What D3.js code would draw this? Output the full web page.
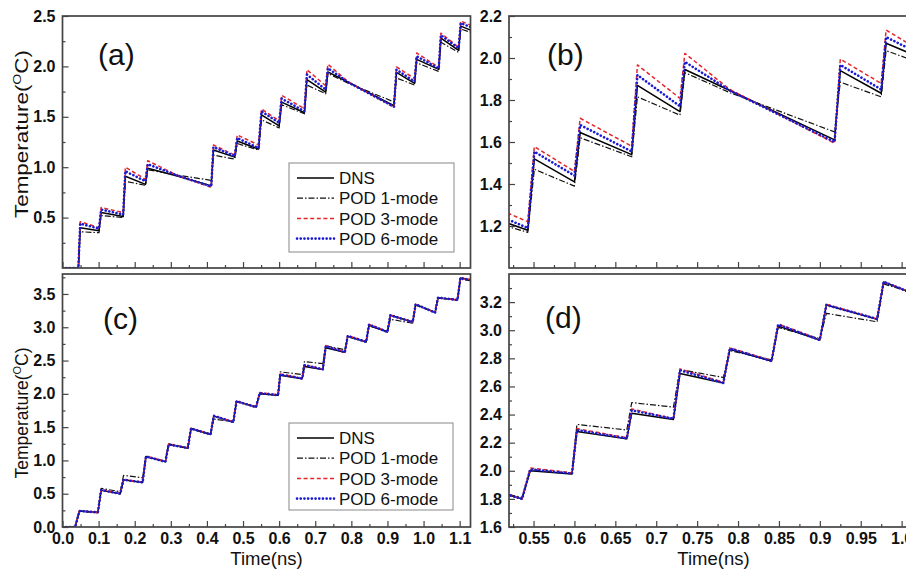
<!DOCTYPE html>
<html>
<head>
<meta charset="utf-8">
<script src="https://cdn.jsdelivr.net/npm/d3@7"></script>
<style>
  body { margin: 0; background: #fff; }
  svg { display: block; }
</style>
</head>
<body>
<svg id="fig" width="906" height="569"></svg>
<script>
// ---- Case 1 (panels a, b): irregular pulse train ----
const timeA = [0, 0.044, 0.049, 0.101, 0.107, 0.168, 0.174, 0.230, 0.236, 0.32, 0.412, 0.418,
  0.477, 0.484, 0.543, 0.551, 0.600, 0.607, 0.670, 0.677, 0.729, 0.735, 0.79, 0.918, 0.925,
  0.975, 0.981, 1.042, 1.048, 1.097, 1.103, 1.13];
const dnsA  = [0, 0, 0.40, 0.37, 0.55, 0.51, 0.91, 0.83, 0.99, 0.91, 0.815, 1.17, 1.10, 1.26,
  1.18, 1.52, 1.41, 1.645, 1.54, 1.87, 1.745, 1.945, 1.845, 1.61, 1.94, 1.832, 2.07, 1.97,
  2.28, 2.16, 2.40, 2.36];
const pod1A = [0, 0, 0.36, 0.35, 0.52, 0.50, 0.86, 0.82, 0.975, 0.92, 0.87, 1.12, 1.08, 1.235,
  1.17, 1.47, 1.39, 1.62, 1.53, 1.815, 1.728, 1.93, 1.835, 1.648, 1.885, 1.815, 2.035, 1.95,
  2.24, 2.14, 2.37, 2.34];
const pod3A = [0, 0, 0.46, 0.40, 0.60, 0.55, 1.00, 0.88, 1.065, 0.915, 0.80, 1.22, 1.12, 1.32,
  1.22, 1.578, 1.46, 1.713, 1.58, 1.967, 1.808, 2.022, 1.85, 1.594, 1.995, 1.879, 2.133, 1.99,
  2.33, 2.19, 2.45, 2.41];
const pod6A = [0, 0, 0.44, 0.39, 0.58, 0.53, 0.96, 0.86, 1.03, 0.915, 0.81, 1.20, 1.11, 1.29,
  1.19, 1.554, 1.44, 1.681, 1.555, 1.919, 1.77, 1.982, 1.845, 1.60, 1.967, 1.85, 2.10, 1.98,
  2.31, 2.18, 2.43, 2.39];

// ---- Case 2 (panels c, d): regular pulse train ----
const timeC = [0, 0.035, 0.047, 0.098, 0.107, 0.160, 0.169, 0.222, 0.231, 0.285, 0.294, 0.347,
  0.356, 0.410, 0.419, 0.473, 0.482, 0.536, 0.546, 0.597, 0.603, 0.664, 0.670, 0.721, 0.729,
  0.782, 0.790, 0.841, 0.849, 0.900, 0.908, 0.970, 0.978, 1.032, 1.040, 1.094, 1.102, 1.13];
const dnsC  = [0, 0, 0.24, 0.22, 0.55, 0.50, 0.71, 0.67, 1.06, 0.98, 1.24, 1.185, 1.48, 1.39,
  1.665, 1.575, 1.89, 1.80, 2.00, 1.977, 2.28, 2.227, 2.41, 2.365, 2.692, 2.625, 2.864, 2.78,
  3.03, 2.93, 3.18, 3.078, 3.343, 3.22, 3.44, 3.41, 3.74, 3.71];
const pod1C = [0, 0, 0.24, 0.21, 0.58, 0.53, 0.775, 0.74, 1.05, 0.99, 1.25, 1.18, 1.47, 1.40,
  1.62, 1.58, 1.88, 1.81, 2.01, 1.98, 2.33, 2.29, 2.485, 2.453, 2.72, 2.664, 2.855, 2.79,
  3.02, 2.94, 3.12, 3.06, 3.33, 3.23, 3.44, 3.42, 3.72, 3.70];
const pod3C = [0, 0, 0.245, 0.22, 0.56, 0.505, 0.715, 0.675, 1.065, 0.985, 1.245, 1.19, 1.485,
  1.395, 1.675, 1.58, 1.895, 1.80, 2.02, 1.985, 2.30, 2.235, 2.44, 2.37, 2.725, 2.63, 2.875,
  2.785, 3.045, 2.935, 3.185, 3.08, 3.345, 3.225, 3.445, 3.41, 3.745, 3.715];
const pod6C = [0, 0, 0.24, 0.22, 0.555, 0.50, 0.71, 0.67, 1.06, 0.98, 1.24, 1.185, 1.48, 1.39,
  1.67, 1.575, 1.89, 1.80, 2.01, 1.98, 2.29, 2.23, 2.43, 2.37, 2.715, 2.625, 2.87, 2.78,
  3.04, 2.93, 3.18, 3.08, 3.345, 3.22, 3.445, 3.41, 3.74, 3.71];

const seriesNames = ["DNS", "POD 1-mode", "POD 3-mode", "POD 6-mode"];

// ---- axis ticks ----
const xMajorFull = [0, 0.1, 0.2, 0.3, 0.4, 0.5, 0.6, 0.7, 0.8, 0.9, 1.0, 1.1];
const xMinorFull = [0.05, 0.15, 0.25, 0.35, 0.45, 0.55, 0.65, 0.75, 0.85, 0.95, 1.05, 1.15];
const xMajorZoom = [0.55, 0.6, 0.65, 0.7, 0.75, 0.8, 0.85, 0.9, 0.95, 1.0];
const xLabelsZoom = ["0.55", "0.6", "0.65", "0.7", "0.75", "0.8", "0.85", "0.9", "0.95", "1.0"];
const xMinorZoom = [0.525, 0.575, 0.625, 0.675, 0.725, 0.775, 0.825, 0.875, 0.925, 0.975, 1.025];
const yMajorA = [0.5, 1.0, 1.5, 2.0, 2.5];
const yMinorA = [0.25, 0.75, 1.25, 1.75, 2.25];
const yMajorB = [1.2, 1.4, 1.6, 1.8, 2.0, 2.2];
const yMinorB = [1.1, 1.3, 1.5, 1.7, 1.9, 2.1];
const yMajorC = [0, 0.5, 1.0, 1.5, 2.0, 2.5, 3.0, 3.5];
const yMinorC = [0.25, 0.75, 1.25, 1.75, 2.25, 2.75, 3.25, 3.75];
const yMajorD = [1.6, 1.8, 2.0, 2.2, 2.4, 2.6, 2.8, 3.0, 3.2];
const yMinorD = [1.7, 1.9, 2.1, 2.3, 2.5, 2.7, 2.9, 3.1, 3.3];

const FONT = "'Liberation Sans', Arial, Helvetica, sans-serif";
const svg = d3.select("#fig");
svg.append("rect").attr("width", 906).attr("height", 569).attr("fill", "#fff");
const defs = svg.append("defs");

const lineStyles = [
  { stroke: "#000000", width: 1.5, dash: null, cap: "butt" },
  { stroke: "#111111", width: 1.2, dash: "6,2,1.5,2", cap: "butt" },
  { stroke: "#e3262b", width: 1.5, dash: "4,2.6", cap: "butt" },
  { stroke: "#1a1ad2", width: 2.6, dash: "0.1,3.6", cap: "round" }
];

function drawPanel(cfg) {
  const x = d3.scaleLinear().domain(cfg.xDomain).range([cfg.left, cfg.right]);
  const y = d3.scaleLinear().domain(cfg.yDomain).range([cfg.bottom, cfg.top]);
  const g = svg.append("g");
  const clipId = "clip-" + cfg.name;
  defs.append("clipPath").attr("id", clipId).append("rect")
    .attr("x", cfg.left).attr("y", cfg.top)
    .attr("width", cfg.right - cfg.left).attr("height", cfg.bottom - cfg.top);

  // data curves
  const plot = g.append("g").attr("clip-path", `url(#${clipId})`);
  cfg.series.forEach((vals, i) => {
    const st = lineStyles[i];
    const line = d3.line().x((d, j) => x(cfg.time[j])).y(d => y(d));
    plot.append("path").datum(vals)
      .attr("d", line)
      .attr("fill", "none")
      .attr("stroke", st.stroke)
      .attr("stroke-width", st.width)
      .attr("stroke-linecap", st.cap)
      .attr("stroke-linejoin", "round")
      .attr("stroke-dasharray", st.dash);
  });

  // left axis: inward ticks
  const yAx = g.append("g").attr("transform", `translate(${cfg.left},0)`)
    .call(d3.axisLeft(y).tickValues(cfg.yMajor).tickSizeInner(-6).tickSizeOuter(0)
      .tickPadding(7).tickFormat(d3.format(".1f")));
  const yMin = g.append("g").attr("transform", `translate(${cfg.left},0)`)
    .call(d3.axisLeft(y).tickValues(cfg.yMinor).tickSizeInner(-3).tickSizeOuter(0)
      .tickFormat(""));

  // bottom axis: inward ticks
  const xAx = g.append("g").attr("transform", `translate(0,${cfg.bottom})`)
    .call(d3.axisBottom(x).tickValues(cfg.xMajor).tickSizeInner(-6).tickSizeOuter(0)
      .tickPadding(6).tickFormat(cfg.xFormat || ""));
  const xMin = g.append("g").attr("transform", `translate(0,${cfg.bottom})`)
    .call(d3.axisBottom(x).tickValues(cfg.xMinor.filter(v => v <= cfg.xDomain[1]))
      .tickSizeInner(-3).tickSizeOuter(0).tickFormat(""));

  [yAx, yMin, xAx, xMin].forEach(a => {
    a.select(".domain").remove();
    a.selectAll(".tick line").attr("stroke", "#444").attr("stroke-width", 1.2);
    a.selectAll("text").attr("font-family", FONT).attr("font-size", 16)
      .attr("font-weight", "bold").attr("fill", "#111");
  });

  // frame
  g.append("rect")
    .attr("x", cfg.left).attr("y", cfg.top)
    .attr("width", cfg.right - cfg.left).attr("height", cfg.bottom - cfg.top)
    .attr("fill", "none").attr("stroke", "#444").attr("stroke-width", 1.7);

  // panel tag
  g.append("text").attr("x", cfg.tagX).attr("y", cfg.tagY)
    .attr("font-family", FONT).attr("font-size", 30).attr("fill", "#111")
    .text(cfg.tag);

  // legend
  if (cfg.legend) {
    const L = cfg.legend;
    const lg = g.append("g");
    lg.append("rect").attr("x", L.x).attr("y", L.y).attr("width", L.w).attr("height", L.h)
      .attr("fill", "#fff").attr("stroke", "#888").attr("stroke-width", 1);
    seriesNames.forEach((name, i) => {
      const st = lineStyles[i];
      const yy = L.y + 15 + i * 20.2;
      lg.append("line").attr("x1", L.x + 8).attr("x2", L.x + 45)
        .attr("y1", yy).attr("y2", yy)
        .attr("stroke", st.stroke).attr("stroke-width", st.width)
        .attr("stroke-linecap", st.cap).attr("stroke-dasharray", st.dash);
      lg.append("text").attr("x", L.x + 50).attr("y", yy).attr("dy", "0.36em")
        .attr("font-family", FONT).attr("font-size", 17).attr("fill", "#111")
        .text(name);
    });
  }

  // y title
  if (cfg.yTitleY) {
    const t = g.append("text")
      .attr("transform", `translate(28,${cfg.yTitleY}) rotate(-90)`)
      .attr("text-anchor", "middle")
      .attr("font-family", FONT).attr("font-size", 17.5).attr("fill", "#111");
    if (cfg.yTitleLen) {
      t.attr("textLength", cfg.yTitleLen).attr("lengthAdjust", "spacingAndGlyphs");
    }
    t.append("tspan").text("Temperature(");
    t.append("tspan").attr("font-size", 11).attr("dy", -7).text("O");
    t.append("tspan").attr("dy", 7).text("C)");
  }
  // x title
  if (cfg.xTitle) {
    g.append("text").attr("x", (cfg.left + cfg.right) / 2).attr("y", 565)
      .attr("text-anchor", "middle")
      .attr("font-family", FONT).attr("font-size", 18.5).attr("fill", "#111")
      .text("Time(ns)");
  }
}

const fmtZoom = (d) => xLabelsZoom[xMajorZoom.indexOf(d)];

drawPanel({
  name: "a", tag: "(a)", tagX: 98, tagY: 65,
  left: 62.5, right: 470.5, top: 16, bottom: 268,
  xDomain: [0, 1.13], yDomain: [0, 2.5],
  xMajor: xMajorFull, xMinor: xMinorFull, yMajor: yMajorA, yMinor: yMinorA,
  time: timeA, series: [dnsA, pod1A, pod3A, pod6A],
  legend: { x: 289, y: 163, w: 165, h: 89 },
  yTitleY: 134, yTitleLen: 168
});
drawPanel({
  name: "b", tag: "(b)", tagX: 547, tagY: 65,
  left: 509, right: 918, top: 16, bottom: 268,
  xDomain: [0.52, 1.02], yDomain: [1.0, 2.2],
  xMajor: xMajorZoom, xMinor: xMinorZoom, yMajor: yMajorB, yMinor: yMinorB,
  time: timeA, series: [dnsA, pod1A, pod3A, pod6A]
});
drawPanel({
  name: "c", tag: "(c)", tagX: 103, tagY: 329,
  left: 62.5, right: 470.5, top: 274, bottom: 527,
  xDomain: [0, 1.13], yDomain: [0, 3.8],
  xMajor: xMajorFull, xMinor: xMinorFull, yMajor: yMajorC, yMinor: yMinorC,
  xFormat: d3.format(".1f"),
  time: timeC, series: [dnsC, pod1C, pod3C, pod6C],
  legend: { x: 289, y: 423, w: 164, h: 87 },
  yTitleY: 413, xTitle: true
});
drawPanel({
  name: "d", tag: "(d)", tagX: 545, tagY: 328,
  left: 509, right: 918, top: 274, bottom: 527,
  xDomain: [0.52, 1.02], yDomain: [1.6, 3.4],
  xMajor: xMajorZoom, xMinor: xMinorZoom, yMajor: yMajorD, yMinor: yMinorD,
  xFormat: fmtZoom,
  time: timeC, series: [dnsC, pod1C, pod3C, pod6C],
  xTitle: true
});
</script>
</body>
</html>
